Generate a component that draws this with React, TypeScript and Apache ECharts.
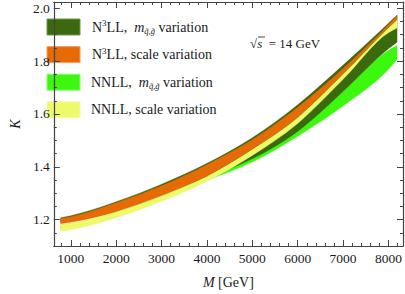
import React, { useEffect, useRef } from 'react';
import * as echarts from 'echarts';

// Invariant mass M [GeV]
const M = [775, 1000, 2000, 3000, 4000, 5000, 6000, 7000, 8000, 8190];

// N3LL, m_{q~,g~} variation (dark green)
const n3llMassLow = [1.190, 1.196, 1.236, 1.296, 1.360, 1.430, 1.534, 1.685, 1.847, 1.872];
const n3llMassHigh = [1.207, 1.215, 1.268, 1.334, 1.413, 1.510, 1.635, 1.785, 1.944, 1.975];

// N3LL, scale variation (orange)
const n3llScaleLow = [1.184, 1.190, 1.230, 1.290, 1.365, 1.467, 1.588, 1.752, 1.928, 1.958];
const n3llScaleHigh = [1.204, 1.211, 1.264, 1.328, 1.408, 1.502, 1.625, 1.772, 1.938, 1.972];

// NNLL, m_{q~,g~} variation (bright green)
const nnllMassLow = [1.165, 1.170, 1.213, 1.275, 1.348, 1.418, 1.516, 1.630, 1.769, 1.805];
const nnllMassHigh = [1.180, 1.185, 1.228, 1.288, 1.362, 1.435, 1.545, 1.685, 1.841, 1.859];

// NNLL, scale variation (yellow)
const nnllScaleLow = [1.157, 1.162, 1.207, 1.269, 1.345, 1.443, 1.564, 1.731, 1.908, 1.926];
const nnllScaleHigh = [1.180, 1.186, 1.228, 1.288, 1.363, 1.465, 1.586, 1.750, 1.926, 1.956];

const legendLabels = [
  '{n|N}{sup|3}{n|LL,  }{i|m}{sub|q\u0303,g\u0303}{n| variation}',
  '{n|N}{sup|3}{n|LL, scale variation}',
  '{n|NNLL,  }{i|m}{sub|q\u0303,g\u0303}{n| variation}',
  '{n|NNLL, scale variation}',
];

const COLORS = {
  darkGreen: '#3b6a0e',
  orange: '#e66a05',
  brightGreen: '#3cf70e',
  yellow: '#ecfa6c',
};
const legendColors = [COLORS.darkGreen, COLORS.orange, COLORS.brightGreen, COLORS.yellow];
const legendBorders = ['#6f9550', '#f0a060', '#8cfb70', '#f4fca8'];

const FONT = 'Liberation Serif';
const TEXT = '#1a1a1a';
const AXIS = '#444';

// tangents (data space) for a smooth cubic Hermite curve
function tangents(xs: number[], ys: number[]) {
  const n = xs.length;
  const m: number[] = [];
  for (let i = 0; i < n; i++) {
    if (i === 0) m.push((ys[1] - ys[0]) / (xs[1] - xs[0]));
    else if (i === n - 1) m.push((ys[n - 1] - ys[n - 2]) / (xs[n - 1] - xs[n - 2]));
    else {
      const h0 = xs[i] - xs[i - 1];
      const h1 = xs[i + 1] - xs[i];
      const d0 = (ys[i] - ys[i - 1]) / h0;
      const d1 = (ys[i + 1] - ys[i]) / h1;
      m.push((d0 * h1 + d1 * h0) / (h0 + h1));
    }
  }
  return m;
}

function curveSegments(api: any, xs: number[], ys: number[], reverse: boolean) {
  const m = tangents(xs, ys);
  const idx = xs.map((_, i) => i);
  if (reverse) idx.reverse();
  let d = '';
  for (let k = 0; k < idx.length - 1; k++) {
    const i = idx[k];
    const j = idx[k + 1];
    const h = xs[j] - xs[i];
    const c1 = api.coord([xs[i] + h / 3, ys[i] + (m[i] * h) / 3]);
    const c2 = api.coord([xs[j] - h / 3, ys[j] - (m[j] * h) / 3]);
    const p = api.coord([xs[j], ys[j]]);
    d += ` C${c1[0]},${c1[1]} ${c2[0]},${c2[1]} ${p[0]},${p[1]}`;
  }
  return d;
}

function bandSeries(name: string, low: number[], high: number[], color: string) {
  return {
    type: 'custom',
    name,
    silent: true,
    data: [[M[0], low[0]]],
    renderItem: (params: any, api: any) => {
      const start = api.coord([M[0], high[0]]);
      const endLow = api.coord([M[M.length - 1], low[low.length - 1]]);
      let d = `M${start[0]},${start[1]}`;
      d += curveSegments(api, M, high, false);
      d += ` L${endLow[0]},${endLow[1]}`;
      d += curveSegments(api, M, low, true);
      d += ' Z';
      return {
        type: 'path',
        shape: { pathData: d },
        style: { fill: color, stroke: color, lineWidth: 0.3 },
      };
    },
  };
}

export default function App() {
  const ref = useRef<HTMLDivElement>(null);

  useEffect(() => {
    if (!ref.current) return;
    const chart = echarts.init(ref.current, undefined, { renderer: 'svg' });

    const baseX = {
      type: 'value',
      min: 625,
      max: 8320,
      splitNumber: 8,
      splitLine: { show: false },
      axisLine: { show: true, onZero: false, lineStyle: { color: AXIS, width: 1.2 } },
      axisTick: { show: true, inside: true, length: 6, lineStyle: { color: AXIS, width: 1 } },
      minorTick: { show: true, splitNumber: 5, length: 3, lineStyle: { color: AXIS, width: 1 } },
    };
    const baseY = {
      type: 'value',
      min: 1.1,
      max: 2.024,
      splitNumber: 5,
      splitLine: { show: false },
      axisLine: { show: true, onZero: false, lineStyle: { color: AXIS, width: 1.2 } },
      axisTick: { show: true, inside: true, length: 6, lineStyle: { color: AXIS, width: 1 } },
      minorTick: { show: true, splitNumber: 4, length: 3, lineStyle: { color: AXIS, width: 1 } },
    };

    const graphics: any[] = [];
    legendLabels.forEach((label, i) => {
      const y = 19 + i * 27.6;
      graphics.push({
        type: 'rect',
        shape: { x: 47, y, width: 33, height: 16 },
        style: { fill: legendColors[i], stroke: legendBorders[i], lineWidth: 1 },
      });
      graphics.push({
        type: 'text',
        x: i < 2 ? 92 : 91,
        y: y + 8,
        style: {
          text: label,
          verticalAlign: 'middle',
          align: 'left',
          rich: {
            n: { fontSize: 14, fontFamily: FONT, fill: TEXT, lineHeight: 17 },
            i: { fontSize: 14, fontFamily: FONT, fontStyle: 'italic', fill: TEXT, lineHeight: 17 },
            sup: { fontSize: 9, fontFamily: FONT, fill: TEXT, verticalAlign: 'top', lineHeight: 17 },
            sub: { fontSize: 8.5, fontFamily: FONT, fontStyle: 'italic', fill: TEXT, verticalAlign: 'bottom', lineHeight: 17 },
          },
        },
      });
    });
    graphics.push({
      type: 'text',
      x: 250,
      y: 43,
      style: {
        text: '{r|\u221A}{i|s}{n|  = 14 GeV}',
        verticalAlign: 'middle',
        align: 'left',
        rich: {
          r: { fontSize: 13, fontFamily: FONT, fill: TEXT },
          i: { fontSize: 13, fontFamily: FONT, fontStyle: 'italic', fill: TEXT },
          n: { fontSize: 13, fontFamily: FONT, fill: TEXT },
        },
      },
    });
    graphics.push({
      type: 'line',
      shape: { x1: 258, y1: 37, x2: 265, y2: 37 },
      style: { stroke: TEXT, lineWidth: 0.8 },
    });

    chart.setOption({
      animation: false,
      backgroundColor: '#ffffff',
      textStyle: { fontFamily: FONT },
      grid: { left: 40, right: 2, top: 2, bottom: 37, containLabel: false },
      xAxis: [
        {
          ...baseX,
          position: 'bottom',
          name: '{i|M} [GeV]',
          nameLocation: 'middle',
          nameGap: 29,
          nameTextStyle: {
            fontSize: 14,
            fontFamily: FONT,
            color: TEXT,
            rich: { i: { fontSize: 14, fontFamily: FONT, fontStyle: 'italic', color: TEXT } },
          },
          axisLabel: {
            show: true,
            margin: 5,
            fontSize: 13.5,
            fontFamily: FONT,
            color: TEXT,
            showMinLabel: false,
            showMaxLabel: false,
            formatter: (v: number) => String(Math.round(v)),
          },
        },
        { ...baseX, position: 'top', axisLabel: { show: false } },
      ],
      yAxis: [
        {
          ...baseY,
          position: 'left',
          name: 'K',
          nameLocation: 'middle',
          nameGap: 29,
          nameRotate: 90,
          nameTextStyle: { fontSize: 14, fontFamily: FONT, fontStyle: 'italic', color: TEXT },
          axisLabel: {
            show: true,
            margin: 4,
            fontSize: 13.5,
            fontFamily: FONT,
            color: TEXT,
            showMinLabel: false,
            showMaxLabel: false,
            formatter: (v: number) => v.toFixed(1),
          },
        },
        { ...baseY, position: 'right', axisLabel: { show: false } },
      ],
      series: [
        bandSeries('NNLL, m variation', nnllMassLow, nnllMassHigh, COLORS.brightGreen),
        bandSeries('N3LL, m variation', n3llMassLow, n3llMassHigh, COLORS.darkGreen),
        bandSeries('N3LL, scale variation', n3llScaleLow, n3llScaleHigh, COLORS.orange),
        bandSeries('NNLL, scale variation', nnllScaleLow, nnllScaleHigh, COLORS.yellow),
      ],
      graphic: graphics,
    });

    return () => chart.dispose();
  }, []);

  return <div ref={ref} style={{ width: 405, height: 294, position: 'absolute', left: 0, top: 0 }} />;
}
